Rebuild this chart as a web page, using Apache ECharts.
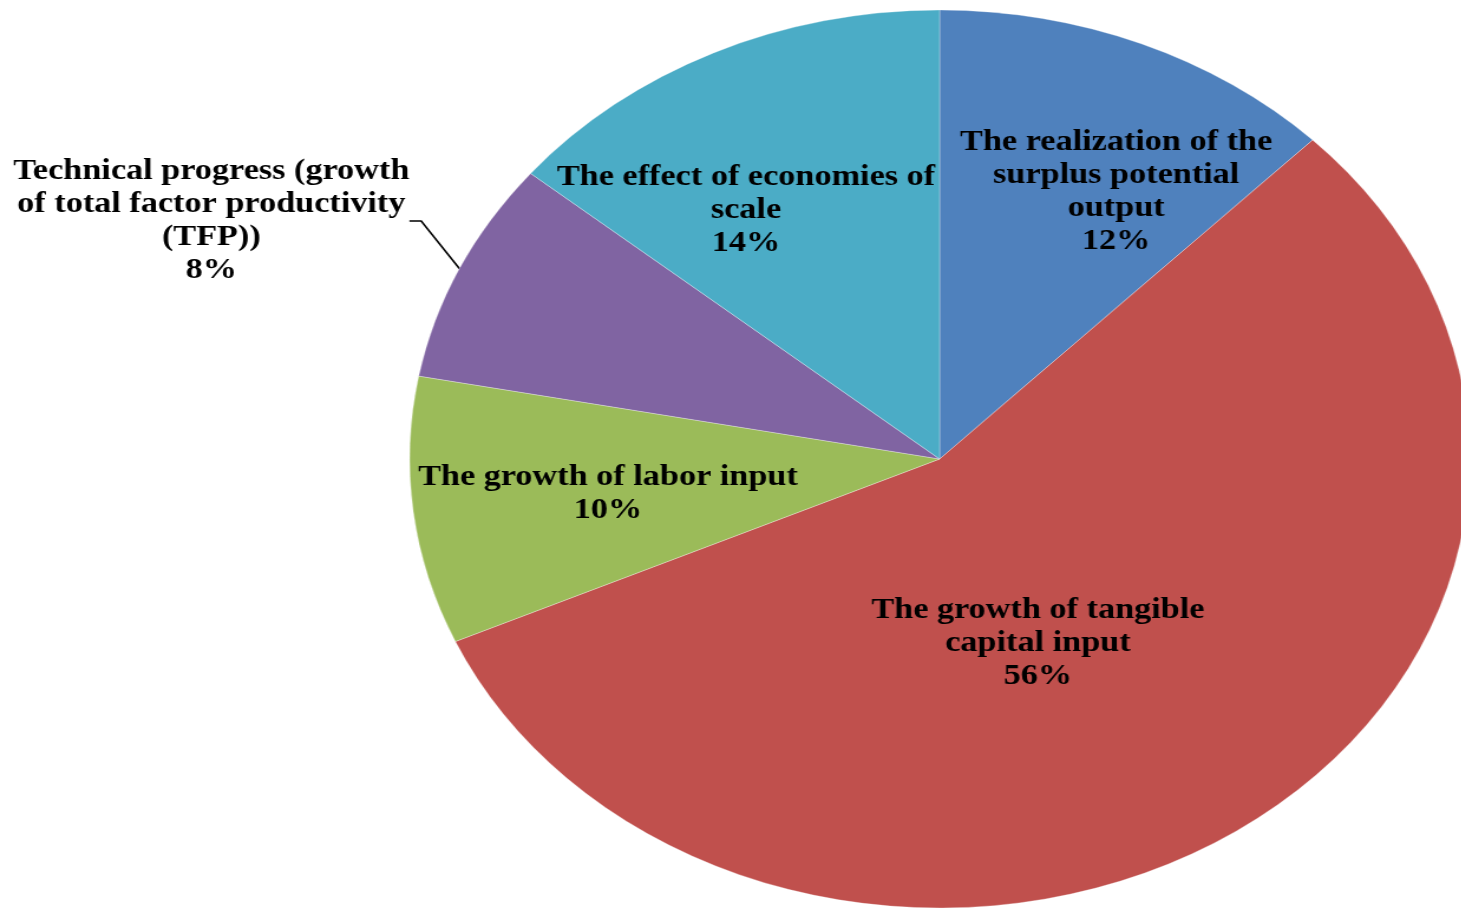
<!DOCTYPE html>
<html>
<head>
<meta charset="utf-8">
<script src="https://cdn.jsdelivr.net/npm/echarts@6/dist/echarts.min.js"></script>
<style>
  html, body { margin: 0; padding: 0; background: #fff; overflow: hidden; }
  /* the original picture is stretched sideways, so the chart is drawn round and then stretched */
  #chart1 { width: 1238px; height: 909px; transform: scaleX(1.1804); transform-origin: 0 0; }
</style>
</head>
<body>
<div id="chart1"></div>
<script>
var names = [
    'The realization of the\nsurplus potential\noutput',
    'The growth of tangible\ncapital input',
    'The growth of labor input',
    'Technical progress (growth\nof total factor productivity\n(TFP))',
    'The effect of economies of\nscale'
];
var values = [12.4, 55.8, 9.6, 8.0, 14.0];
var colors = ['#4F81BD', '#C0504D', '#9BBB59', '#8064A2', '#4BACC6'];

// nudges of the inside labels from their default spot
var labelShift = [[63, -57], [-46, -3], [-55, 9], null, [-67, -43]];

$data = [];
for (var i = 0; i < names.length; i++) {
    var item = { name: names[i], value: values[i], itemStyle: { color: colors[i] } };
    if (i === 3) {
        item.label = { position: 'outside' };
        item.labelLine = { show: true, length: 20, length2: 10, lineStyle: { color: '#000', width: 1.6 } };
    }
    $data.push(item);
}

var weChart = echarts.init(document.getElementById('chart1'));
var option = {
    animation: false,
    series: [
        {
            type: 'pie',
            center: [796, 459],
            radius: 449,
            startAngle: 90,
            clockwise: true,
            itemStyle: { borderColor: 'rgba(255,255,255,0.5)', borderWidth: 0.6 },
            label: {
                show: true,
                position: 'inside',
                color: '#000',
                fontFamily: 'Liberation Serif',
                fontWeight: 'bold',
                fontSize: 29,
                lineHeight: 33,
                align: 'center',
                formatter: function (p) {
                    return p.name + '\n' + Math.round(p.percent) + '%';
                }
            },
            labelLine: { show: false },
            labelLayout: function (p) {
                var s = labelShift[p.dataIndex];
                if (s) return { dx: s[0], dy: s[1] };
                return { x: 179, y: 221, align: 'center', verticalAlign: 'middle' };
            },
            data: $data
        }
    ]
};
weChart.setOption(option, true);
</script>
</body>
</html>
